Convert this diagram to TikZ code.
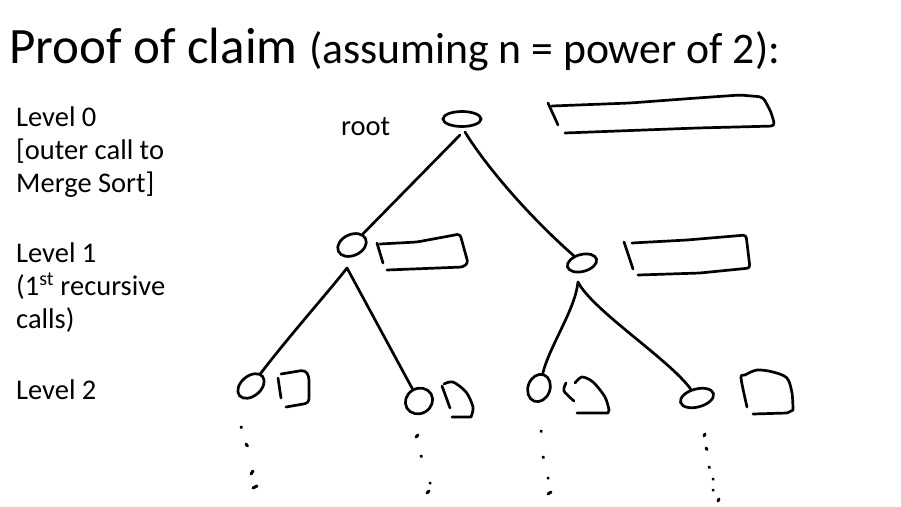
\documentclass[tikz,border=0pt]{standalone}
\usepackage{fontspec}
\setmainfont{Carlito}
\usetikzlibrary{shapes.geometric}
\begin{document}
\begin{tikzpicture}[x=1pt,y=-1pt,
  ink/.style={line width=2.7pt, line cap=round, line join=round, black},
  vtx/.style={ellipse, draw, line width=2.7pt, inner sep=0pt, black},
  lbl/.style={anchor=base west, inner sep=0pt, font=\fontsize{28.5}{33}\selectfont},
  dotmark/.style={line width=3pt, line cap=round, black}]
\useasboundingbox (0,0) rectangle (901,506);
\fill[white] (0,0) rectangle (901,506);

% title
\node[anchor=base west, inner sep=0pt, font=\fontsize{51}{60}\selectfont] (title) at (9,63)
  {Proof of claim {\fontsize{43.7}{50}\selectfont(assuming n = power of 2):}};

% level labels
\node[lbl] (l0a) at (16,126) {Level 0};
\node[lbl] (l0b) at (16,159) {[outer call to};
\node[lbl] (l0c) at (16,192) {Merge Sort]};
\node[lbl] (l1a) at (16,262) {Level 1};
\node[lbl] (l1b) at (16,295) {(1\textsuperscript{st} recursive};
\node[lbl] (l1c) at (16,328) {calls)};
\node[lbl] (l2a) at (16,399) {Level 2};
\node[lbl] (rootlbl) at (341,135) {root};

% tree vertices
\node[vtx, minimum width=38pt, minimum height=15pt] (r) at (462,119) {};
\node[vtx, minimum width=30pt, minimum height=21pt, rotate=25] (a) at (352,245) {};
\node[vtx, minimum width=30pt, minimum height=17pt, rotate=15] (b) at (582,263) {};
\node[vtx, minimum width=30pt, minimum height=20pt, rotate=40] (aa) at (251,386) {};
\node[vtx, minimum width=28pt, minimum height=25pt, rotate=30] (ab) at (419,401) {};
\node[vtx, minimum width=28pt, minimum height=22pt, rotate=70] (ba) at (539,388) {};
\node[vtx, minimum width=34pt, minimum height=18pt, rotate=15] (bb) at (697,398) {};

% stem points
\coordinate (r-sl) at (460,135);
\coordinate (r-sr) at (465,132);
\coordinate (a-s) at (347,268);
\coordinate (b-s) at (578,282);

% connectors
\draw[ink] (r-sl) -- (a);
\draw[ink] (r-sr) .. controls (482,160) and (522,210) .. (b);
\draw[ink] (a-s) .. controls (330,290) and (290,335) .. (aa);
\draw[ink] (a-s) -- (ab);
\draw[ink] (b-s) .. controls (575,310) and (550,345) .. (ba);
\draw[ink] (b-s) .. controls (592,310) and (670,360) .. (bb);

% arrays (hand-drawn boxes)
\draw[ink] (548,103) -- (558,125);
\draw[ink, rounded corners=4pt] (552,106) -- (630,103) -- (697,98) -- (740,95) -- (763,97) -- (771,112) -- (775,126) -- (697,128) -- (565,133);
\draw[ink] (377,243) -- (383,263);
\draw[ink, rounded corners=3pt] (380,244) -- (417,242) -- (460,234) -- (468,263) -- (463,267) -- (387,270);
\draw[ink] (624,242) -- (633,269);
\draw[ink, rounded corners=3pt] (632,243) -- (687,240) -- (746,235) -- (750,268) -- (700,273) -- (638,275);

% level 2 boxes
\draw[ink] (278,378) -- (281,398);
\draw[ink, rounded corners=4pt] (281,374) -- (305,370) -- (309,376) -- (309,403) -- (286,407);
\draw[ink] (442,386) -- (450,408);
\draw[ink] plot[smooth] coordinates {(444,384) (453,382) (466,392) (473,407) (471,417)} -- (452,417);
\draw[ink] plot[smooth] coordinates {(566,383) (564,391) (574,401)};
\draw[ink] plot[smooth] coordinates {(575,383) (582,377) (593,382) (605,397) (609,410)} -- (608,413) -- (577,413);
\draw[ink] plot[smooth] coordinates {(747,407) (741,378) (745,375) (757,370) (773,372) (787,378) (792,393) (793,410)} -- (787,413) -- (753,414);

% dots
\draw[dotmark] (241,427) -- (241.5,427.5);
\draw[dotmark] (246,444) -- (247.5,446);
\draw[dotmark] (251,474) -- (253,471);
\draw[dotmark] (253,488) -- (257,486);
\draw[dotmark] (416,437) -- (418,435);
\draw[dotmark] (421,456) -- (421.5,456.5);
\draw[dotmark] (430,483) -- (430.3,483.3);
\draw[dotmark] (427,493) -- (429,491);
\draw[dotmark] (541,431) -- (541.3,431.5);
\draw[dotmark] (543,457) -- (543.5,457.5);
\draw[dotmark] (548,478) -- (548.2,478.2);
\draw[dotmark] (548,494) -- (551,492);
\draw[dotmark] (704,436) -- (705,434);
\draw[dotmark] (706,448) -- (707,449.5);
\draw[dotmark] (709,467) -- (709.5,467.5);
\draw[dotmark] (713,479) -- (713.4,479.4);
\draw[dotmark] (713,490) -- (713.4,490.4);
\draw[dotmark] (718,501) -- (719,499);
\end{tikzpicture}
\end{document}
